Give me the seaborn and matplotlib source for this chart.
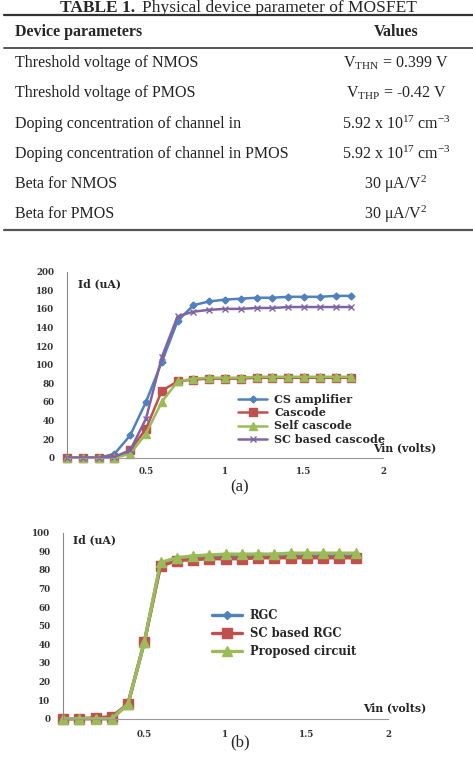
import numpy as np
import pandas as pd
import matplotlib
matplotlib.use("Agg")
import matplotlib.pyplot as plt
import seaborn as sns

sns.set_theme(style="white")
plt.rcParams['font.family'] = ['Liberation Serif', 'DejaVu Serif']
plt.rcParams['mathtext.fontset'] = 'custom'
plt.rcParams['mathtext.rm'] = 'Liberation Serif'
plt.rcParams['mathtext.it'] = 'Liberation Serif:italic'
plt.rcParams['mathtext.bf'] = 'Liberation Serif:bold'

# ---------------- data ----------------
table_params = ["Threshold voltage of NMOS", "Threshold voltage of PMOS",
                "Doping concentration of channel in",
                "Doping concentration of channel in PMOS",
                "Beta for NMOS", "Beta for PMOS"]
table_values = [r"V$_{\mathrm{THN}}$ = 0.399 V", r"V$_{\mathrm{THP}}$ = -0.42 V",
                r"5.92 x 10$^{17}$ cm$^{-3}$", r"5.92 x 10$^{17}$ cm$^{-3}$",
                r"30 μA/V$^{2}$", r"30 μA/V$^{2}$"]

vin = [0.0, 0.1, 0.2, 0.3, 0.4, 0.5, 0.6, 0.7, 0.8, 0.9,
       1.0, 1.1, 1.2, 1.3, 1.4, 1.5, 1.6, 1.7, 1.8]

a_labels = ["CS amplifier", "Cascode", "Self cascode", "SC based cascode"]
a_cs = [0, 0, 0, 4, 24, 60, 103, 147, 164, 168, 170, 171, 172, 172, 173, 173, 173, 174, 174]
a_cascode = [0, 0, 0, 0, 8, 31, 72, 82, 84, 85, 85, 85, 86, 86, 86, 86, 86, 86, 86]
a_self = [0, 0, 0, 0, 4, 26, 60, 82, 85, 86, 86, 86, 87, 87, 87, 87, 87, 87, 87]
a_scbased = [0, 0, 0, 1, 8, 42, 108, 152, 157, 159, 160, 160, 161, 161, 162, 162, 162, 162, 162]

b_labels = ["RGC", "SC based RGC", "Proposed circuit"]
b_rgc = [0, 0, 0, 0, 8, 41, 83, 86, 86.5, 87, 87, 87.5, 87.5, 87.5, 87.5, 87.5, 87.5, 87.5, 87.5]
b_scrgc = [0, 0, 0.5, 1, 8, 41, 82, 85, 85.5, 86, 86, 86, 86.5, 86.5, 86.5, 86.5, 86.5, 86.5, 86.5]
b_prop = [0, 0, 0, 0, 8, 41, 84, 86.5, 87.5, 88, 88.5, 88.5, 88.5, 88.5, 89, 89, 89, 89, 89]

a_yticks = [0, 20, 40, 60, 80, 100, 120, 140, 160, 180, 200]
b_yticks = [0, 10, 20, 30, 40, 50, 60, 70, 80, 90, 100]
x_ticks = [0.5, 1, 1.5, 2]
x_ticklabels = ["0.5", "1", "1.5", "2"]

# ---------------- figure ----------------
W, H = 473, 757
fig = plt.figure(figsize=(W / 100, H / 100), dpi=100)

bg = fig.add_axes([0, 0, 1, 1])
bg.set_xlim(0, W)
bg.set_ylim(H, 0)
bg.axis("off")

CHART_FONT = ['DejaVu Serif']

# table
bg.text(60, 12.5, "TABLE 1.", fontsize=12.5, fontweight="bold", va="baseline", ha="left")
bg.text(142, 12.5, "Physical device parameter of MOSFET", fontsize=12.5, va="baseline", ha="left")
bg.plot([4, 473], [15, 15], color="#333333", lw=1.6)
bg.plot([4, 473], [47.5, 47.5], color="#555555", lw=1.4)
bg.plot([4, 473], [230, 230], color="#555555", lw=1.6)
bg.text(15, 32, "Device parameters", fontsize=11.5, fontweight="bold", va="center", ha="left")
bg.text(396, 32, "Values", fontsize=11.5, fontweight="bold", va="center", ha="center")
row_y = [63, 93, 124, 154, 184, 214]
for yy, p, v in zip(row_y, table_params, table_values):
    bg.text(15, yy, p, fontsize=11.5, va="center", ha="left", color="#222222")
    bg.text(396, yy, v, fontsize=11.5, va="center", ha="center", color="#222222")

bg.text(240, 487, "(a)", fontsize=12, ha="center", va="center")
bg.text(240, 742, "(b)", fontsize=12, ha="center", va="center")


def rect(l, t, r, b):
    return [l / W, 1 - b / H, (r - l) / W, (b - t) / H]


def style_axes(ax, yticks, ymax, xpad):
    ax.set_xlim(0, 2)
    ax.set_ylim(0, ymax)
    ax.set_yticks(yticks)
    ax.set_yticklabels([str(t) for t in yticks])
    ax.set_xticks(x_ticks)
    ax.set_xticklabels(x_ticklabels)
    for s in ["top", "right"]:
        ax.spines[s].set_visible(False)
    ax.spines["left"].set_color("#888888")
    ax.spines["bottom"].set_color("#999999")
    ax.spines["left"].set_linewidth(0.8)
    ax.spines["bottom"].set_linewidth(0.8)
    ax.tick_params(axis="y", direction="out", length=3, width=0.7, color="#888888",
                   labelsize=6.3, labelcolor="#333333", pad=6)
    ax.tick_params(axis="x", direction="out", length=3, width=0.7, color="#888888",
                   labelsize=6.3, labelcolor="#333333", pad=xpad)
    for lab in ax.get_xticklabels() + ax.get_yticklabels():
        lab.set_fontweight("bold")
        lab.set_family(CHART_FONT)
    ax.set_xlabel("")
    ax.set_ylabel("")
    ax.patch.set_alpha(0)


# ---------------- chart (a) ----------------
axa = fig.add_axes(rect(67, 271.7, 383, 457.7))
dfa = pd.DataFrame({"Vin": vin * 4,
                    "Id": a_cs + a_cascode + a_self + a_scbased,
                    "series": sum([[l] * len(vin) for l in a_labels], [])})
a_colors = ["#4F81BD", "#C0504D", "#9BBB59", "#8064A2"]
a_markers = ["D", "s", "^", "x"]
a_msize = [3.5, 5.5, 5.5, 5]
for lab, c, m, ms in zip(a_labels, a_colors, a_markers, a_msize):
    sub = dfa[dfa["series"] == lab]
    sns.lineplot(data=sub, x="Vin", y="Id", ax=axa, color=c, lw=1.8, marker=m,
                 markersize=ms, markeredgecolor=c, markeredgewidth=1.0,
                 label=lab, clip_on=False)
style_axes(axa, a_yticks, 200, 4)
leg = axa.legend(loc="upper left", bbox_to_anchor=((234 - 67) / 316, 1 - (389.5 - 271.7) / 186),
                 frameon=False, prop={'family': CHART_FONT, 'weight': 'bold', 'size': 8},
                 handlelength=2.6, labelspacing=0.2,
                 handletextpad=0.6, borderaxespad=0)
bg.text(78, 284, "Id (uA)", fontsize=7.8, fontweight="bold", va="center", ha="left", family=CHART_FONT)
bg.text(373, 448, "Vin (volts)", fontsize=7.8, fontweight="bold", va="center", ha="left", family=CHART_FONT)

# ---------------- chart (b) ----------------
axb = fig.add_axes(rect(63, 532.7, 388, 718.7))
dfb = pd.DataFrame({"Vin": vin * 3,
                    "Id": b_rgc + b_scrgc + b_prop,
                    "series": sum([[l] * len(vin) for l in b_labels], [])})
b_colors = ["#4F81BD", "#C0504D", "#9BBB59"]
b_markers = ["D", "s", "^"]
b_msize = [4, 6.5, 6.5]
for lab, c, m, ms in zip(b_labels, b_colors, b_markers, b_msize):
    sub = dfb[dfb["series"] == lab]
    sns.lineplot(data=sub, x="Vin", y="Id", ax=axb, color=c, lw=2.4, marker=m,
                 markersize=ms, markeredgecolor=c, markeredgewidth=1.0,
                 label=lab, clip_on=False)
style_axes(axb, b_yticks, 100, 5)
leg = axb.legend(loc="upper left", bbox_to_anchor=((207 - 63) / 325, 1 - (604 - 532.7) / 186),
                 frameon=False, prop={'family': CHART_FONT, 'weight': 'bold', 'size': 8.3},
                 handlelength=2.6, labelspacing=0.45,
                 handletextpad=0.7, borderaxespad=0)
bg.text(73, 540, "Id (uA)", fontsize=7.8, fontweight="bold", va="center", ha="left", family=CHART_FONT)
bg.text(363, 708, "Vin (volts)", fontsize=7.8, fontweight="bold", va="center", ha="left", family=CHART_FONT)

fig.savefig("out.png", dpi=100)
